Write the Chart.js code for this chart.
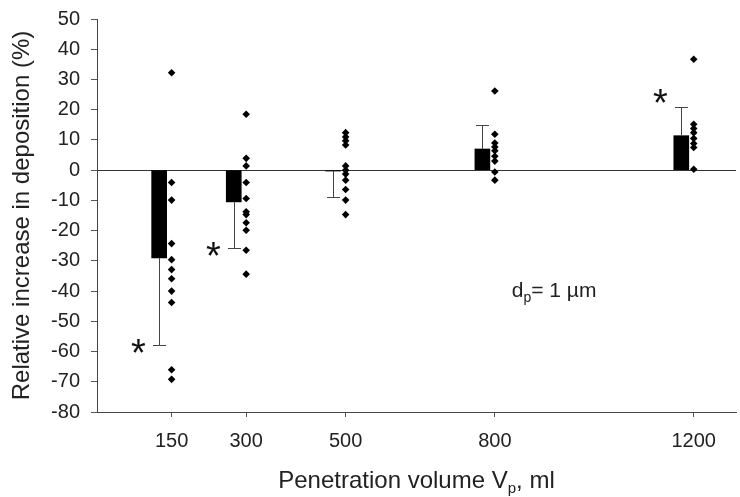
<!DOCTYPE html>
<html>
<head>
<meta charset="utf-8">
<script src="https://cdn.jsdelivr.net/npm/chart.js@4"></script>
<style>
  html, body { margin: 0; padding: 0; background: #fff; }
  #wrap { width: 740px; height: 497px; }
</style>
</head>
<body>
<div id="wrap"><canvas id="chart"></canvas></div>
<script>
// --- datos ---
const volumes = [150, 300, 500, 800, 1200];           // ml
const means = [-29, -10.5, -0.3, 7, 11.4];            // % (barras)
const errEnds = [-58, -25.6, -9, 14.9, 21];           // extremo de la barra de error
const significant = [true, true, false, false, true]; // asteriscos

// valores individuales por volumen
const pts150 = [32.2, -4.1, -9.9, -24.3, -29.6, -32.9, -35.9, -40, -43.8, -66, -69.2];
const pts300 = [18.5, 3.9, 1.4, -4.1, -9.4, -13.8, -14.7, -17.4, -19.9, -26.5, -34.4];
const pts500 = [12.4, 11.0, 9.7, 8.3, 1.4, 0, -1.3, -3.3, -6.4, -9.9, -14.7];
const pts800 = [26.2, 11.9, 9.0, 7.7, 6.4, 4.6, 3.0, -0.6, -3.3];
const pts1200 = [36.7, 15.2, 13.8, 12.4, 10.5, 8.8, 7.5, 0.3];
const allPoints = [pts150, pts300, pts500, pts800, pts1200];

const yTicks = { min: -80, max: 50, step: 10 };
const BAR_SHIFT = 25;   // la barra va a la izquierda de los puntos (en ml)
const FONT = '"Liberation Sans", Arial, sans-serif';
const INK = '#222';

const barData = volumes.map((v, i) => ({ x: v - BAR_SHIFT, y: means[i] }));
const dotData = [];
volumes.forEach((v, i) => allPoints[i].forEach(p => dotData.push({ x: v, y: p })));

// barras de error, asteriscos y textos con subíndice
const extrasPlugin = {
    id: 'extras',
    afterDatasetsDraw(chart) {
        const { ctx, scales: { x, y } } = chart;
        ctx.save();
        ctx.strokeStyle = '#444';
        ctx.lineWidth = 1;
        volumes.forEach((v, i) => {
            const px = Math.round(x.getPixelForValue(v - BAR_SHIFT)) + 0.5;
            const y0 = y.getPixelForValue(means[i]);
            const y1 = Math.round(y.getPixelForValue(errEnds[i])) + 0.5;
            ctx.beginPath();
            ctx.moveTo(px, y0);
            ctx.lineTo(px, y1);
            ctx.moveTo(px - 6.5, y1);
            ctx.lineTo(px + 6.5, y1);
            ctx.stroke();

            if (significant[i]) {
                ctx.fillStyle = '#111';
                ctx.font = '38px ' + FONT;
                ctx.textAlign = 'center';
                ctx.textBaseline = 'alphabetic';
                const dy = errEnds[i] < 0 ? 0 : -12;
                ctx.fillText('*', px - 21, y1 + dy + 20);
            }
        });
        ctx.restore();
    },
    afterDraw(chart) {
        const { ctx, chartArea, scales: { x, y } } = chart;
        ctx.save();
        ctx.fillStyle = INK;
        ctx.textBaseline = 'alphabetic';
        ctx.textAlign = 'left';

        // título del eje x: "Penetration volume Vp, ml"
        const big = '24px ' + FONT, small = '15px ' + FONT;
        ctx.font = big;
        const a = 'Penetration volume V', c = ', ml';
        const wa = ctx.measureText(a).width, wc = ctx.measureText(c).width;
        ctx.font = small;
        const wb = ctx.measureText('p').width;
        let sx = (chartArea.left + chartArea.right) / 2 - (wa + wb + wc) / 2;
        const base = 488;
        ctx.font = big; ctx.fillText(a, sx, base); sx += wa;
        ctx.font = small; ctx.fillText('p', sx, base + 5); sx += wb;
        ctx.font = big; ctx.fillText(c, sx, base);

        // anotación dp = 1 µm
        let ax = x.getPixelForValue(834);
        const ay = y.getPixelForValue(-42);
        ctx.font = '21px ' + FONT;
        ctx.fillText('d', ax, ay); ax += ctx.measureText('d').width;
        ctx.font = '14px ' + FONT;
        ctx.fillText('p', ax, ay + 5); ax += ctx.measureText('p').width;
        ctx.font = '21px ' + FONT;
        ctx.fillText('= 1 \u00B5m', ax, ay);
        ctx.restore();
    }
};

new Chart(document.getElementById('chart'), {
    type: 'bar',
    data: {
        datasets: [{
            type: 'bar',
            data: barData,
            backgroundColor: '#000',
            borderWidth: 0,
            barThickness: 15,
            order: 2
        }, {
            type: 'scatter',
            data: dotData,
            pointStyle: 'rectRot',
            pointRadius: 3.8,
            backgroundColor: '#000',
            borderColor: '#000',
            borderWidth: 0,
            order: 1
        }]
    },
    options: {
        responsive: true,
        maintainAspectRatio: false,
        animation: false,
        layout: { padding: { top: 19, right: 0, left: 0, bottom: 0 } },
        plugins: {
            legend: { display: false },
            tooltip: { enabled: false }
        },
        scales: {
            x: {
                type: 'linear',
                min: 0,
                max: 1285,
                offset: false,
                afterBuildTicks: (scale) => { scale.ticks = volumes.map(v => ({ value: v })); },
                afterFit: (scale) => { scale.height = 85; },
                grid: { offset: false, drawOnChartArea: false, drawTicks: true, tickLength: 5, tickColor: '#555' },
                border: { color: '#444', width: 1 },
                ticks: {
                    color: INK,
                    font: { family: FONT, size: 20 },
                    padding: 12,
                    maxRotation: 0,
                    autoSkip: false,
                    callback: (v) => String(v)
                }
            },
            y: {
                min: yTicks.min,
                max: yTicks.max,
                afterFit: (scale) => {
                    scale.width = 97;
                    // que la etiqueta "50" no empuje el área del gráfico hacia abajo
                    scale.paddingTop = 0;
                    scale.paddingBottom = 0;
                },
                grid: {
                    color: (c) => (c.tick && c.tick.value === 0 ? '#333' : 'rgba(0,0,0,0)'),
                    tickColor: '#555',
                    tickLength: 6,
                    drawTicks: true
                },
                border: { color: '#444', width: 1 },
                ticks: {
                    stepSize: yTicks.step,
                    color: INK,
                    font: { family: FONT, size: 20 },
                    padding: 11
                },
                title: {
                    display: true,
                    text: 'Relative increase in deposition (%)',
                    color: INK,
                    font: { family: FONT, size: 24 },
                    padding: { top: 8, bottom: 0 }
                }
            }
        }
    },
    plugins: [extrasPlugin]
});
</script>
</body>
</html>
